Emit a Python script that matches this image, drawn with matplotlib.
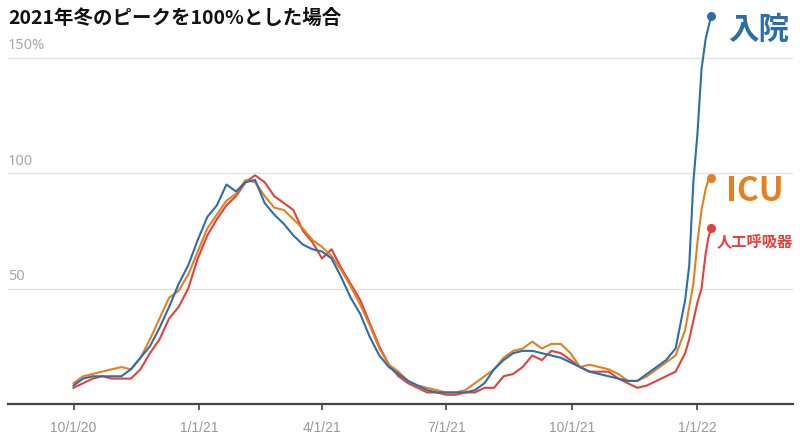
import matplotlib
matplotlib.use("Agg")
import matplotlib.pyplot as plt
import pandas as pd

plt.rcParams["font.family"] = ["Noto Sans CJK JP", "DejaVu Sans"]

# weekly samples from 2020-10-01, then a denser run over the final surge
weekly_start = "2020-10-01"
n_weekly = 65
surge_dates = ["2021-12-26", "2021-12-29", "2022-01-01", "2022-01-04",
               "2022-01-07", "2022-01-09", "2022-01-11"]

hosp = [8, 11, 12, 12, 12, 12, 15, 20, 25, 33, 42, 52, 60, 71, 81, 86, 95,
        92, 96, 97, 87, 82, 78, 73, 69, 67, 66, 63, 55, 46, 39, 29, 21, 16,
        13, 10, 8, 6, 5, 5, 5, 5, 6, 9, 15, 19, 22, 23, 23, 22, 21, 20, 18,
        16, 14, 13, 12, 11, 10, 10, 13, 16, 19, 24, 45,
        60, 96, 117, 145, 158, 163, 168]
icu = [9, 12, 13, 14, 15, 16, 15, 20, 28, 37, 46, 49, 56, 66, 76, 82, 88,
       91, 97, 96, 90, 85, 84, 80, 76, 71, 68, 64, 58, 51, 43, 34, 24, 17,
       14, 10, 8, 7, 6, 5, 5, 6, 9, 12, 15, 20, 23, 24, 27, 24, 26, 26, 22,
       16, 17, 16, 15, 13, 10, 10, 12, 15, 18, 21, 32,
       42, 52, 70, 84, 93, 97, 98]
vent = [7, 9, 11, 12, 11, 11, 11, 15, 22, 28, 37, 42, 50, 63, 73, 80, 86,
        90, 96, 99, 96, 90, 87, 84, 75, 70, 63, 67, 59, 52, 45, 35, 25, 17,
        12, 9, 7, 5, 5, 4, 4, 5, 5, 7, 7, 12, 13, 16, 21, 19, 23, 22, 19,
        16, 14, 14, 14, 11, 9, 7, 8, 10, 12, 14, 22,
        28, 36, 44, 50, 65, 72, 76]

series_names = ["人工呼吸器", "ICU", "入院"]
series_values = [vent, icu, hosp]
colors = ["#e4413a", "#e6801f", "#2c6fa8"]
label_sizes = [11, 24, 22]
label_offsets = [(4, -10), (11, -10), (12, -10)]

xtick_dates = ["2020-10-01", "2021-01-01", "2021-04-01", "2021-07-01",
               "2021-10-01", "2022-01-01"]
xtick_labels = ["10/1/20", "1/1/21", "4/1/21", "7/1/21", "10/1/21", "1/1/22"]
grid_values = [50, 100, 150]
grid_labels = ["50", "100", "150%"]

dates = list(pd.date_range(weekly_start, periods=n_weekly, freq="7D")) + \
    [pd.Timestamp(d) for d in surge_dates]

fig = plt.figure(figsize=(8, 4.37), dpi=100)
ax = fig.add_axes([8 / 800, 33 / 437, 785 / 800, 394 / 437])
ax.set_xlim(pd.Timestamp("2020-08-14"), pd.Timestamp("2022-03-12"))
ax.set_ylim(0, 394 / 2.31)

for v, lab in zip(grid_values, grid_labels):
    ax.axhline(v, color="#e3e3e3", lw=1, zorder=0)
    ax.annotate(lab, xy=(0, v), xycoords=("axes fraction", "data"),
                xytext=(0, 3), textcoords="offset points",
                ha="left", va="bottom", fontsize=10.5, color="#a8a8a8",
                family=["Noto Sans", "DejaVu Sans"])

for name, vals, c, fs, off in zip(series_names, series_values, colors,
                                  label_sizes, label_offsets):
    ax.plot(dates, vals, color=c, lw=1.5, solid_joinstyle="round")
    ax.plot(dates[-1], vals[-1], "o", color=c, ms=5.5, clip_on=False)
    ax.annotate(name, xy=(dates[-1], vals[-1]), xytext=off,
                textcoords="offset points", ha="left", va="center",
                fontsize=fs, fontweight="bold", color=c)

ax.set_xticks([pd.Timestamp(d) for d in xtick_dates])
ax.set_xticklabels(xtick_labels, family=["Liberation Sans", "DejaVu Sans"],
                   fontsize=10, color="#999999")
ax.tick_params(axis="x", length=4.5, width=1.2, color="#444", pad=8)
ax.set_yticks([])
for s in ["top", "right", "left"]:
    ax.spines[s].set_visible(False)
ax.spines["bottom"].set_color("#444")
ax.spines["bottom"].set_linewidth(1.6)

fig.text(8 / 800, 1 - 18 / 437, "2021年冬のピークを100%とした場合",
         ha="left", va="center", fontsize=14, fontweight="bold", color="#111")

fig.savefig("out.png", dpi=100)
